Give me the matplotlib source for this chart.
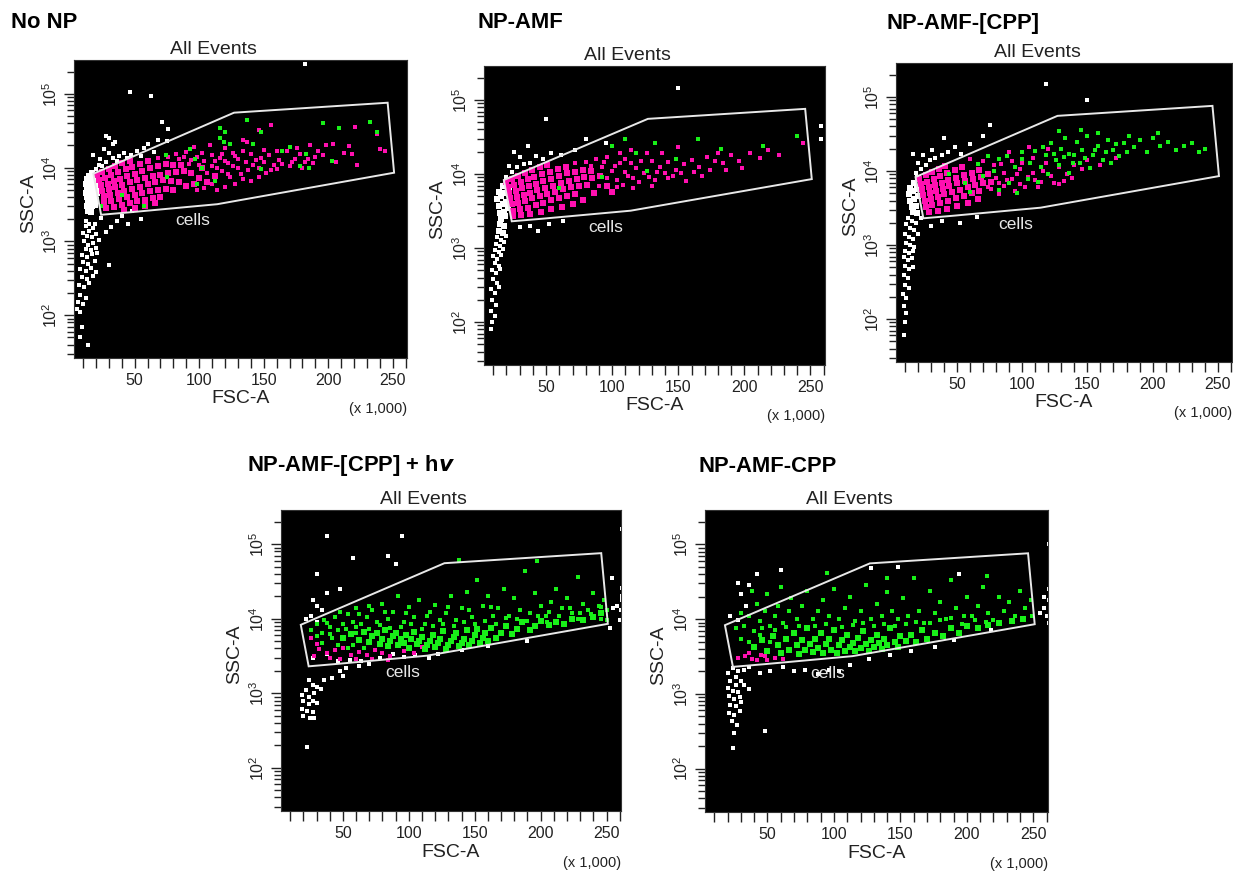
import matplotlib
matplotlib.use('Agg')
import matplotlib.pyplot as plt
from matplotlib.transforms import ScaledTranslation

plt.rcParams['font.family'] = ['Liberation Sans', 'DejaVu Sans']
plt.rcParams['mathtext.fontset'] = 'custom'
plt.rcParams['mathtext.rm'] = 'Liberation Sans'

FIG_W, FIG_H = 1233, 872
WHITE, MAGENTA, GREEN = '#ffffff', '#ff10b0', '#18f018'

# Event positions are a hand-read subset of the thousands of dots: (FSC in thousands, SSC)
gate_x = [18, 127, 246, 251, 114, 48, 24]
gate_y = [8300, 55700, 76000, 8550, 3200, 2500, 2300]

titles = ['No NP', 'NP-AMF', 'NP-AMF-[CPP]', 'NP-AMF-[CPP] + h$\\boldsymbol{v}$', 'NP-AMF-CPP']

p1_white_dense = [(13,7000),(15,7800),(17,8500),(12,6000),(14,6300),(16,6800),(18,7200),(13,5200),(15,5600),(17,6000),
    (19,6100),(12,4600),(14,4700),(16,5000),(18,5000),(20,5200),(13,4000),(15,4200),(17,4300),(19,4300),(21,4500),
    (14,3500),(16,3600),(18,3700),(20,3600),(13,3000),(15,3100),(17,3000),(19,3100),(14,2600),(16,2500)]
p1_white = [(12,1900),(15,1700),(18,1500),(10,1300),(13,1200),(17,1150),(20,1250),(11,1000),(14,900),(18,950),(22,1050),
    (12,800),(16,760),(20,820),(9,650),(13,620),(17,680),(21,700),(10,520),(14,500),(19,540),(8,420),(12,400),(16,430),
    (20,390),(9,330),(13,310),(18,340),(7,260),(11,240),(15,270),(8,190),(12,170),(6,150),(10,140),(5,120),(8,110),(9,70),
    (8,50),(14,40),(30,480),(28,1350),(32,1550),(36,1900),(45,1700),(55,2000),(48,2600),(20,9500),(25,10500),(28,12000),
    (23,13000),(18,15000),(30,16000),(26,18000),(33,13500),(38,14500),(42,16000),(47,15000),(52,17000),(57,18500),(60,21000),
    (65,16500),(68,24000),(35,22000),(30,25000),(28,27000),(33,21000),(75,23000),(46,105000),(63,95000),(182,257000),(71,42000),
    (76,33000),(22,11000),(36,12500),(44,13500),(55,14500),(12,1600),(15,1400),(19,1750),(24,2100),(40,2200)]
p1_magenta_dense = [(21,8000),(25,8800),(30,9500),(35,10500),(40,11500),(46,12500),(22,6800),(27,7200),(32,7900),(37,8700),(43,9500),
    (48,10200),(54,11200),(60,12400),(24,5800),(29,6100),(34,6600),(39,7100),(44,7700),(50,8300),(56,9000),(62,9800),(68,10600),
    (74,11200),(80,11000),(86,10800),(25,4900),(30,5100),(35,5400),(40,5900),(46,6300),(52,6800),(58,7300),(64,7700),(70,8000),
    (76,8500),(82,8700),(88,8900),(94,8400),(26,4100),(31,4300),(37,4500),(42,4800),(48,5200),(54,5500),(60,6000),(66,6400),
    (72,6800),(78,6600),(84,6300),(26,3400),(32,3500),(38,3800),(44,4000),(50,4300),(56,4500),(62,4800),(68,5000),(74,5200),
    (80,5000),(28,2800),(34,2900),(40,3100),(46,3300),(52,3500),(58,3700),(64,3900),(70,4000),(42,2700),(50,2800),(58,3000),
    (66,3300),(100,7200),(106,6400),(112,7800),(102,9800),(96,6000),(90,5600)]
p1_magenta = [(98,14000),(104,12500),(110,15000),(116,13500),(122,11500),(128,14500),(134,17000),(90,16500),(82,15500),(96,19000),
    (108,20000),(120,18500),(126,16000),(118,9000),(124,7500),(130,9800),(136,12000),(142,10800),(148,13500),(154,15000),(158,11000),
    (162,12800),(168,17000),(174,13000),(178,15500),(184,13200),(188,11500),(192,17000),(198,20000),(204,21000),(216,19500),(218,15500),
    (222,11000),(221,36000),(238,29000),(240,18000),(244,17000),(146,32000),(156,38000),(137,22000),(140,6500),(128,6000),(114,5000),
    (146,10000),(152,8500),(160,9500),(170,10500),(180,10000),(190,14000),(206,12000),(84,13000),(110,10500),(134,24000),
    (92,11200),(100,10800),(106,8500),(114,9800),(120,12500),(126,10500),(132,8200),(138,9200),(144,12700),(150,11800),(156,9300),(164,11200),
    (172,12000),(182,11800),(94,12800),(102,16000),(112,12200),(118,15500),(130,13000),(140,15500),(150,17500),(160,17000),(176,18500),(186,20000),
    (196,15000),(212,16000),(88,13800),(76,14000),(68,13500),(122,8300),(110,6000),(120,5500),(134,7000),(146,7400),(98,5000),(104,5300)]
p1_green = [(116,35000),(120,30000),(116,25000),(119,22000),(124,21000),(142,21000),(137,44000),(148,30000),(196,40000),(208,35000),
    (232,42000),(238,30000),(164,17000),(170,19000),(183,15500),(178,10500),(185,9800),(203,12500),(148,9500),(93,18000),(97,13000),
    (102,10000),(75,7500),(98,6000),(112,6700),(40,4300),(24,3000),(57,3000),(74,15000)]

p2_white_dense = [(14,5800),(17,6800),(20,7600),(13,4600),(16,5000),(19,5600),(22,6400),(14,3700),(17,4000),(20,4200),(15,3000),
    (18,3100),(21,3500),(16,2500),(19,2700),(15,2100),(18,2000),(14,1700),(17,1600)]
p2_white = [(13,1400),(16,1300),(20,1450),(12,1150),(15,1050),(18,1200),(11,950),(14,880),(17,980),(10,780),(13,720),(16,800),(11,620),
    (14,580),(9,500),(12,460),(15,520),(10,380),(13,340),(8,280),(11,250),(14,300),(9,200),(12,170),(8,140),(11,120),(9,100),(8,80),(20,9000),
    (24,10500),(28,12500),(22,13000),(33,13500),(38,14000),(30,17000),(42,17500),(48,16000),(54,19000),(61,18000),(36,24000),(26,20000),
    (72,21000),(80,30000),(95,26000),(50,55000),(30,1900),(38,2000),(52,2100),(63,2300),(44,1700),(258,44000),(258,30000),(150,145000)]
p2_magenta_dense = [(20,7800),(24,8600),(29,9500),(34,10400),(39,11200),(45,12300),(51,13200),(21,6600),(26,7100),(31,7800),(36,8500),
    (41,9200),(47,10000),(53,10800),(59,11800),(65,12600),(22,5600),(27,5900),(32,6400),(37,6900),(42,7400),(48,8100),(54,8700),(60,9500),
    (66,10200),(72,10800),(78,11500),(84,11000),(23,4700),(28,4900),(33,5200),(38,5600),(43,6000),(49,6500),(55,7000),(61,7500),(67,8100),
    (73,8700),(79,9000),(85,8800),(91,9500),(24,3900),(29,4100),(34,4300),(39,4700),(45,5000),(51,5400),(57,5800),(63,6200),(69,6600),(75,7000),
    (81,7200),(25,3200),(30,3400),(36,3500),(42,3800),(48,4100),(54,4400),(60,4700),(66,5100),(72,5300),(25,2700),(31,2800),(38,2900),(46,3100),
    (54,3400),(62,3600),(70,4000),(78,4500),(86,5500),(96,7000),(100,5800)]
p2_magenta = [(92,12500),(100,11000),(106,14000),(112,9500),(118,12000),(124,10200),(130,15000),(136,12500),(142,14500),(148,11500),(154,13500),
    (160,15500),(166,12500),(172,17000),(178,15000),(184,14000),(190,18000),(196,15000),(204,19000),(212,16500),(218,21000),(226,18000),(244,26000),
    (106,19000),(96,17000),(88,16000),(114,21000),(126,19000),(138,19500),(150,23000),(120,7800),(132,8200),(142,8800),(156,8000),(108,7200),
    (90,6800),(80,14500),(110,16000),(168,9500),(180,19500),(96,8800),(104,8200),(110,10800),(116,8800),(128,9200),(134,10500),(140,10400),(146,9400),
    (152,10400),(162,10800),(174,11500),(186,11200),(198,12000),(102,13000),(114,14200),(122,15000),(94,14600),(84,13000),(72,14000),(104,6600),(116,6400),(130,6900)]
p2_green = [(100,24000),(110,30000),(118,19000),(132,26000),(165,30000),(182,22000),(240,33000),(214,24000),(92,9000),(148,16000),(60,6500),(126,11000)]

p3_white_dense = [(14,5900),(17,6900),(20,8000),(13,4900),(16,5300),(19,5700),(14,4000),(17,4200),(20,4600),(15,3300),(18,3400),(16,2800),(19,2700)]
p3_white = [(12,2300),(15,2100),(18,2000),(22,2300),(11,1900),(14,1700),(17,1600),(10,1400),(13,1300),(16,1200),(20,1400),(11,1050),(14,1000),
    (17,950),(10,820),(13,780),(16,840),(9,680),(12,620),(15,660),(10,520),(13,480),(16,500),(9,400),(12,360),(10,290),(13,260),(8,220),(11,190),(9,150),
    (11,120),(10,90),(9,60),(18,9500),(22,10500),(26,12000),(20,13000),(29,14000),(33,15000),(24,16500),(16,17000),(31,19000),(38,16500),(43,18000),
    (48,21000),(53,17000),(60,23000),(40,28000),(70,30000),(75,42000),(150,90000),(118,150000),(30,1800),(38,2100),(52,2000),(65,2400)]
p3_magenta_dense = [(21,7900),(26,8800),(31,9700),(36,10700),(41,11700),(22,6700),(27,7200),(32,7900),(37,8600),(42,9300),(48,10300),(54,11200),
    (23,5700),(28,6000),(33,6500),(38,7000),(43,7500),(49,8100),(55,8800),(61,9500),(67,10400),(24,4800),(29,5000),(34,5400),(39,5800),(44,6300),(50,6800),
    (56,7300),(62,7900),(68,8400),(74,9000),(25,4000),(30,4200),(35,4500),(40,4900),(46,5200),(52,5600),(58,6000),(64,6500),(70,6900),(76,7200),(26,3300),
    (31,3500),(37,3700),(43,4000),(49,4300),(55,4600),(61,5000),(67,5300),(28,2800),(35,2900),(42,3100),(50,3400),(58,3700),(66,4200)]
p3_magenta = [(80,8000),(86,9500),(92,7800),(98,10500),(104,8400),(110,7600),(116,10000),(122,8500),(128,11500),(134,9000),(140,12000),(146,10500),
    (84,12500),(92,13500),(100,12800),(108,15000),(118,13000),(78,12000),(70,13500),(60,14500),(74,6000),(86,6300),(98,6700),(112,6100),(128,6600),(150,14000),
    (160,12000),(172,15000),(120,20000),(105,21000),(90,18000),(82,6900),(88,7500),(96,9100),(102,6000),(108,9300),(114,7200),(124,6800),(132,7400),(138,8000),(94,5300),(82,4900),(76,5700)]
p3_green = [(66,12500),(74,16000),(78,10000),(82,14500),(88,16000),(94,11500),(100,18000),(106,13000),(110,18500),(114,11500),(118,16500),(122,24000),(126,14000),
    (130,20000),(133,28000),(136,17000),(139,13000),(142,25000),(146,19000),(150,30000),(154,16500),(158,22000),(162,14000),(166,26000),(170,19000),(174,16000),
    (178,24000),(182,30000),(186,21000),(190,26000),(196,18000),(200,28000),(206,22000),(212,25000),(218,19000),(224,22000),(230,24000),(236,18000),(240,20000),
    (168,13000),(152,11000),(136,9500),(120,9000),(104,7800),(90,7000),(70,8500),(56,7000),(44,9000),(60,5200),(82,5500),(96,5000),(112,7200),(128,35000),(145,36000),
    (158,33000),(204,33000),(124,17000),(132,15500),(140,16500),(148,15000),(156,19000),(164,18000),(172,23000),(180,18000),(116,21000),(128,12000),(144,13000),(100,14500)]

p4_white = [(24,1500),(27,1300),(30,1200),(22,1100),(28,1000),(33,1150),(24,900),(27,800),(19,950),(20,800),(24,720),(30,750),(19,620),(23,570),(27,560),(20,500),(25,460),
    (28,470),(23,190),(27,3000),(38,3400),(46,2700),(52,2200),(48,2000),(42,1600),(50,1700),(36,1500),(55,2800),(64,2700),(70,2500),(62,2300),(78,3000),(88,3400),(96,3100),
    (105,3300),(115,3000),(122,3400),(140,3800),(160,4300),(190,5000),(30,9000),(26,11000),(34,13000),(30,15000),(22,10000),(27,18000),(38,22000),(48,25000),(30,40000),
    (58,65000),(84,70000),(90,55000),(95,130000),(38,130000),(254,35000),(258,15000),(262,18000),(261,13000),(260,9500),(255,14000),(253,7500),(262,160000),(262,26000),(262,20000)]
p4_magenta_dense = [(26,5500),(30,4600),(32,3900),(38,3500),(44,3800),(50,4100),(56,3300),(62,3600),(68,3300),(74,3800),(80,3500),(86,3200),(96,3700),(104,3500),(110,4200),(28,3200),
    (40,3000),(48,2900),(60,2900),(72,2900),(84,2800)]
p4_green_dense = [(50,5600),(56,6300),(62,5200),(66,6700),(70,4900),(72,5900),(76,6400),(78,4600),(80,5400),(82,7000),(84,4300),(86,5000),(88,5800),(90,6500),(92,4400),(94,5300),(96,4800),
    (98,6000),(100,4100),(102,5400),(104,6700),(106,4600),(108,5000),(110,5700),(112,3900),(114,4500),(116,5100),(118,6100),(120,4200),(122,4800),(124,5400),(126,6900),(128,3900),(130,4400),
    (132,5000),(134,5700),(136,6500),(138,4300),(140,4800),(142,5400),(144,7000),(146,4500),(148,5100),(150,6000),(152,7200),(154,4800),(156,5500),(158,6500),(160,5100),(162,7600),(166,5600),
    (170,6500),(174,8000),(178,6300),(182,7200),(186,9000),(192,7000),(196,8000),(200,9300),(206,8200),(212,9000),(218,8500),(224,10000),(232,9500),(240,10500),(246,12000)]
p4_green = [(26,7000),(30,8500),(34,6500),(36,9500),(40,7800),(44,10500),(46,7000),(50,8600),(54,11500),(58,9000),(60,14000),(64,8500),(68,10500),(72,13000),(76,9000),(80,16000),(84,10000),
    (88,12500),(92,20000),(96,9000),(100,14500),(104,10500),(108,18000),(112,8500),(116,12500),(120,15500),(124,9500),(128,12000),(132,20000),(136,9500),(140,14000),(144,23000),(148,10500),
    (152,33000),(156,15000),(160,20000),(164,11000),(168,14000),(172,25000),(176,11000),(180,19000),(184,13000),(188,44000),(192,12000),(196,22000),(200,15000),(204,11000),(208,17000),(212,25000),
    (216,14000),(220,19000),(224,12000),(228,36000),(232,16000),(236,13000),(240,22000),(244,15000),(248,18000),(250,13000),(197,60000),(138,62000),(30,5800),(34,4800),(42,5500),(46,4500),(58,4500),
    (70,15000),(60,6400),(40,6200),(54,4000),(66,4000),(250,9500),(246,10000),(205,9000),(228,9800),
    (38,8800),(52,7200),(60,7800),(70,7400),(78,8200),(86,7600),(94,7800),(102,8400),(110,7200),(118,8000),(126,8600),(134,8000),(142,9000),(150,8400),(158,9400),(166,8400),(174,10200),(182,9800),
    (190,9200),(198,10800),(206,12200),(214,11000),(222,14000),(230,12000),(238,11500),(246,14500),(48,12500),(62,11500),(82,12200),(98,12000),(114,11000),(130,14500),(146,13000),(162,14500)]

p5_white = [(24,2200),(28,2000),(32,2100),(20,1900),(26,1700),(30,1500),(22,1500),(26,1300),(32,1300),(20,1200),(24,1100),(28,1050),(36,1150),(21,950),(25,850),(29,900),(22,720),(26,680),(30,780),
    (21,560),(25,520),(29,590),(23,430),(27,380),(25,300),(48,320),(24,190),(36,2300),(44,1900),(52,2000),(62,2300),(70,2000),(78,2100),(88,1850),(96,2100),(104,2000),(112,2400),(126,2900),(142,3300),
    (158,3800),(176,4300),(190,5300),(218,7200),(22,11000),(28,9800),(34,15000),(30,22000),(28,30000),(36,29000),(42,40000),(60,45000),(128,48000),(148,50000),(194,40000),(258,14000),(262,18000),(260,11000),
    (255,12000),(262,100000),(262,25000),(262,9000),(258,20000)]
p5_magenta_dense = [(28,3000),(33,3200),(38,2900),(42,2800),(45,3300),(50,2800),(56,3000),(62,2900),(36,3500),(48,3200)]
p5_green_dense = [(40,4300),(46,5200),(50,3800),(54,6000),(58,4500),(60,3500),(64,5400),(66,3900),(70,6500),(72,4500),(74,3400),(76,5300),(78,3900),(80,7500),(82,4600),(84,3600),(86,5400),(88,4100),(90,6600),
    (92,3500),(94,4700),(96,5500),(98,3900),(100,7200),(102,3500),(104,4500),(106,5200),(108,3700),(110,6200),(112,4200),(114,4800),(116,3700),(118,5600),(120,4100),(122,7000),(124,4600),(126,3800),(128,5300),
    (130,4300),(132,6200),(134,4800),(136,4000),(138,5500),(140,4500),(142,7500),(146,5000),(148,4300),(150,5900),(154,5100),(158,6200),(162,5000),(166,7200),(170,5500),(176,6500),(182,6000),(188,7500),(194,6500),
    (200,8000),(208,7500),(216,8300),(224,9000),(234,9500),(242,10000)]
p5_green = [(32,8000),(36,11000),(40,7000),(42,16000),(44,9500),(48,13000),(50,22000),(52,8000),(56,11000),(58,15000),(60,27000),(62,9000),(66,13000),(68,19000),(72,10000),(76,15000),(80,24000),(84,10000),(88,13000),
    (92,18000),(96,11000),(100,25000),(104,10000),(108,14000),(112,20000),(116,9500),(120,13000),(124,29000),(128,10000),(132,16000),(136,11000),(140,23000),(144,13000),(148,10000),(152,19000),(156,11000),(160,36000),
    (164,13000),(168,9000),(172,24000),(176,12000),(180,17000),(184,10000),(188,33000),(192,14000),(196,8500),(200,20000),(204,11000),(208,15000),(212,27000),(216,12000),(220,9800),(224,20000),(228,13000),(232,17000),
    (236,11000),(240,24000),(244,14000),(248,18000),(249,11000),(30,5500),(36,5000),(44,6200),(52,4900),(30,12000),(26,7500),(38,24000),(95,42000),(140,35000),(215,38000),
    (46,7600),(56,7200),(64,7800),(74,8200),(86,8200),(94,8600),(106,7800),(114,8400),(122,8800),(130,8000),(138,8600),(146,8100),(154,8500),(162,9200),(172,8800),(180,9800),(188,10500),(198,11000),(206,9700),(214,9200)]

# panel frames in pixels: left, right, top, bottom
frames = [(74, 407, 60, 358), (484, 825, 66, 365), (896, 1232, 63, 362), (281, 621, 510, 811), (705, 1048, 510, 812)]
title_pos = [(11, 23), (477, 23), (886, 23), (247, 466), (698, 466)]
populations = [
    [(p1_white_dense, WHITE, 'big'), (p1_white, WHITE, 'small'), (p1_magenta_dense, MAGENTA, 'big'), (p1_magenta, MAGENTA, 'small'), (p1_green, GREEN, 'small')],
    [(p2_white_dense, WHITE, 'big'), (p2_white, WHITE, 'small'), (p2_magenta_dense, MAGENTA, 'big'), (p2_magenta, MAGENTA, 'small'), (p2_green, GREEN, 'small')],
    [(p3_white_dense, WHITE, 'big'), (p3_white, WHITE, 'small'), (p3_magenta_dense, MAGENTA, 'big'), (p3_magenta, MAGENTA, 'small'), (p3_green, GREEN, 'small')],
    [(p4_white, WHITE, 'small'), (p4_magenta_dense, MAGENTA, 'mid'), (p4_green_dense, GREEN, 'big'), (p4_green, GREEN, 'mid')],
    [(p5_white, WHITE, 'small'), (p5_magenta_dense, MAGENTA, 'mid'), (p5_green_dense, GREEN, 'big'), (p5_green, GREEN, 'mid')],
]
SIZES = {'big': 24, 'mid': 9, 'small': 5}
TEXT = '#222222'

fig = plt.figure(figsize=(FIG_W / 100, FIG_H / 100), dpi=100)

for i, (l, r, t, b) in enumerate(frames):
    ax = fig.add_axes([l / FIG_W, 1 - b / FIG_H, (r - l) / FIG_W, (b - t) / FIG_H], facecolor='black')
    ax.set_xlim(3, 261)
    ax.set_yscale('log')
    ax.set_ylim(10 ** 1.42, 10 ** 5.46)

    for points, color, size in populations[i]:
        xs, ys = zip(*points)
        ax.scatter(xs, ys, s=SIZES[size], c=color, marker='s', linewidths=0, zorder=2)

    ax.fill(gate_x, gate_y, facecolor='none', edgecolor='#e8e8e8', lw=1.4, zorder=3)
    ax.text(95, 1900, 'cells', color='#e8e8e8', fontsize=12.5, ha='center', va='center', zorder=4)

    ax.set_xticks([50, 100, 150, 200, 250])
    ax.set_xticks(range(10, 261, 10), minor=True)
    ax.set_yticks([100, 1000, 10000, 100000])
    labels = ax.set_yticklabels(['$\\mathregular{10^{2}}$', '$\\mathregular{10^{3}}$', '$\\mathregular{10^{4}}$', '$\\mathregular{10^{5}}$'],
                                rotation=90, va='center')
    for lab in labels:
        lab.set_transform(lab.get_transform() + ScaledTranslation(0, 3 / 72, fig.dpi_scale_trans))
    ax.tick_params(which='both', direction='out', width=1, color=TEXT, labelcolor=TEXT, labelsize=11.5)
    ax.tick_params(axis='x', which='both', length=7, pad=4)
    ax.tick_params(axis='y', which='minor', length=5)
    ax.tick_params(axis='y', which='major', length=7, pad=3)
    for s in ax.spines.values():
        s.set_color('#333333')

    ax.text(0.42, 1.035, 'All Events', transform=ax.transAxes, color=TEXT, fontsize=14, ha='center', va='center')
    ax.text(0.5, -0.137, 'FSC-A', transform=ax.transAxes, color=TEXT, fontsize=14, ha='center', va='center')
    ax.text(-0.135, 0.52, 'SSC-A', transform=ax.transAxes, color=TEXT, fontsize=14, rotation=90, ha='center', va='center')
    ax.text(1.0, -0.172, '(x 1,000)', transform=ax.transAxes, color=TEXT, fontsize=10.5, ha='right', va='center')

    fig.text(title_pos[i][0] / FIG_W, 1 - title_pos[i][1] / FIG_H, titles[i], fontsize=15.8, fontweight='bold', color='black', ha='left', va='center')

fig.savefig('out.png', dpi=100)
